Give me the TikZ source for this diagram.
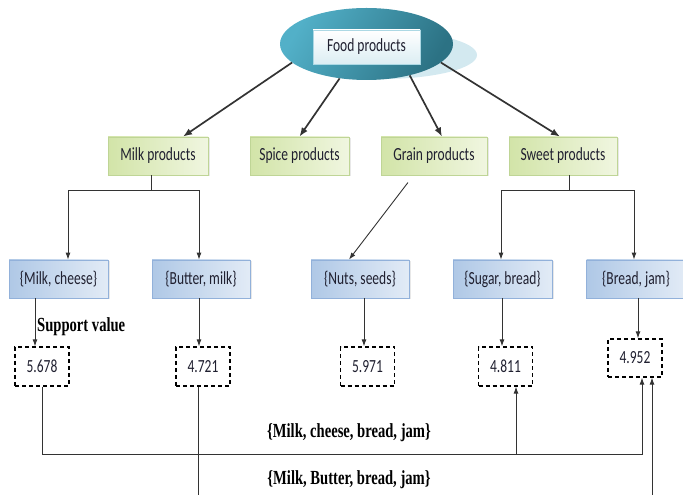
\documentclass[tikz,border=0pt]{standalone}
\usepackage{fontspec}
\setmainfont{Carlito}
\newfontfamily\boxfont{Carlito}[FakeStretch=0.73]
\newfontfamily\labelserif{Liberation Serif}[FakeStretch=0.73]
\usetikzlibrary{shapes.geometric,arrows.meta,shadows,calc}

\definecolor{tealA}{HTML}{52B0C8}
\definecolor{tealB}{HTML}{2C7284}
\definecolor{tealShade}{HTML}{D3E9F0}
\definecolor{greenL}{HTML}{D2E4A8}
\definecolor{greenR}{HTML}{F0F6E0}
\definecolor{greenEdge}{HTML}{BFD596}
\definecolor{blueL}{HTML}{AFC8E6}
\definecolor{blueR}{HTML}{E2EBF6}
\definecolor{blueEdge}{HTML}{92B1DA}
\definecolor{inkdark}{HTML}{202030}
\definecolor{wire}{HTML}{333333}

\tikzset{
  foodell/.style={ellipse, minimum width=173, minimum height=72, inner sep=0,
    left color=tealA, right color=tealB, shading angle=60, draw=none},
  shadowell/.style={ellipse, minimum width=190, minimum height=48, inner sep=0,
    fill=tealShade, draw=none},
  foodtag/.style={rectangle, minimum width=107, minimum height=34, inner sep=0,
    top color=white, bottom color=tealShade!80!white, draw=tealShade!70!tealA,
    text=inkdark, font=\boxfont\fontsize{18.5}{20}\selectfont},
  greenbox/.style={rectangle, minimum height=38, inner sep=0,
    left color=greenL, right color=greenR, draw=greenEdge, line width=0.8,
    drop shadow={shadow xshift=1.5, shadow yshift=-1.5, fill=gray!35},
    text=inkdark, font=\boxfont\fontsize{18.5}{20}\selectfont},
  bluebox/.style={rectangle, minimum height=38, inner sep=0,
    left color=blueL, right color=blueR, draw=blueEdge, line width=0.8,
    drop shadow={shadow xshift=1.5, shadow yshift=-1.5, fill=gray!35},
    text=inkdark, font=\boxfont\fontsize{18.5}{20}\selectfont},
  valbox/.style={rectangle, minimum width=54, minimum height=39, inner sep=0,
    draw=black, line width=1.3, dash pattern=on 4 off 3, fill=white,
    text=inkdark, font=\boxfont\fontsize{18.5}{20}\selectfont},
  setlabel/.style={inner sep=0, text=black,
    font=\labelserif\bfseries\fontsize{20}{22}\selectfont},
  toparrow/.style={draw=wire, line width=1.7, -{Latex[length=9, width=7]}},
  link/.style={draw=wire, line width=0.9},
  lowarrow/.style={draw=wire, line width=0.9, -{Latex[length=7, width=5]}},
}

\begin{document}
\begin{tikzpicture}[x=1pt, y=1pt]
\useasboundingbox (0,0) rectangle (683,495);

% root of the hierarchy
\node[shadowell] (foodshadow) at (382,440) {};
\node[foodell] (food) at (366.5,451) {};
\node[foodtag] (foodlabel) at (366.5,448) {Food products};

% product categories
\node[greenbox, minimum width=100] (milk)  at (158,339)   {Milk products};
\node[greenbox, minimum width=99]  (spice) at (299.5,339) {Spice products};
\node[greenbox, minimum width=106] (grain) at (434,339)   {Grain products};
\node[greenbox, minimum width=108] (sweet) at (563,339)   {Sweet products};

% item sets
\node[bluebox, minimum width=99] (mc) at (58.5,216)  {\{Milk, cheese\}};
\node[bluebox, minimum width=98] (bm) at (201,216)   {\{Butter, milk\}};
\node[bluebox, minimum width=98] (ns) at (360,216)   {\{Nuts, seeds\}};
\node[bluebox, minimum width=99] (sb) at (502.5,216) {\{Sugar, bread\}};
\node[bluebox, minimum width=99] (bj) at (636,216)   {\{Bread, jam\}};

% support values
\node[valbox] (d1) at (42,128.5)    {5.678};
\node[valbox] (d2) at (203,128.5)   {4.721};
\node[valbox] (d3) at (367.5,128.5) {5.971};
\node[valbox] (d4) at (505.5,128.5) {4.811};
\node[valbox, minimum height=38] (d5) at (635,137) {4.952};

\node[setlabel, anchor=west] (supp) at (37,168) {Support value};
\node[setlabel] (set1) at (349,62) {\{Milk, cheese, bread, jam\}};
\node[setlabel] (set2) at (349,15) {\{Milk, Butter, bread, jam\}};

% root to categories
\draw[toparrow] (food.194.5) -- ([xshift=25]milk.north);
\draw[toparrow] (food.232)   -- (spice.north);
\draw[toparrow] (food.324.5) -- ([xshift=8]grain.north);
\draw[toparrow] (food.346)   -- ([xshift=-3]sweet.north);

% milk products split into two item sets
\coordinate (mcin) at ([xshift=9.5]mc.north);
\coordinate (bmin) at ([xshift=-2]bm.north);
\draw[link] ([xshift=-7]milk.south) -- ++(0,-15) coordinate (mj);
\draw[link] (mcin |- mj) -- (bmin |- mj);
\draw[lowarrow] (mcin |- mj) -- (mcin);
\draw[lowarrow] (bmin |- mj) -- (bmin);

% sweet products split into two item sets
\coordinate (sbin) at ([xshift=-1.5]sb.north);
\coordinate (bjin) at ([xshift=-2]bj.north);
\draw[link] ([xshift=6]sweet.south) -- ++(0,-15) coordinate (sj);
\draw[link] (sbin |- sj) -- (bjin |- sj);
\draw[lowarrow] (sbin |- sj) -- (sbin);
\draw[lowarrow] (bjin |- sj) -- (bjin);

% grain products to nuts and seeds
\draw[lowarrow, shorten <=9] ([xshift=-20.6]grain.south) -- ([xshift=-11]ns.north);

% item sets to their support values
\coordinate (d1in) at ([xshift=-7]d1.north);
\coordinate (d2in) at ([xshift=-4]d2.north);
\coordinate (d3in) at ([xshift=-3.5]d3.north);
\coordinate (d4in) at ([xshift=-3.5]d4.north);
\coordinate (d5in) at ([xshift=3]d5.north);
\draw[lowarrow] (d1in |- mc.south) -- (d1in);
\draw[lowarrow] (d2in |- bm.south) -- (d2in);
\draw[lowarrow] (d3in |- ns.south) -- (d3in);
\draw[lowarrow] (d4in |- sb.south) -- (d4in);
\draw[lowarrow] (d5in |- bj.south) -- (d5in);

% combined item sets
\coordinate (bus) at (0,41);
\coordinate (floor) at (0,0);
\coordinate (d4up) at ([xshift=10.5]d4.south);
\coordinate (d5upA) at ([xshift=7]d5.south);
\coordinate (d5upB) at ([xshift=17]d5.south);
\coordinate (d2down) at ([xshift=-5]d2.south);
\draw[lowarrow] (d1.south) |- (d5upA |- bus) -- (d5upA);
\draw[lowarrow] (d4up |- bus) -- (d4up);
\draw[link] (d2down) -- (d2down |- floor);
\draw[lowarrow] (d5upB |- floor) -- (d5upB);
\end{tikzpicture}
\end{document}
